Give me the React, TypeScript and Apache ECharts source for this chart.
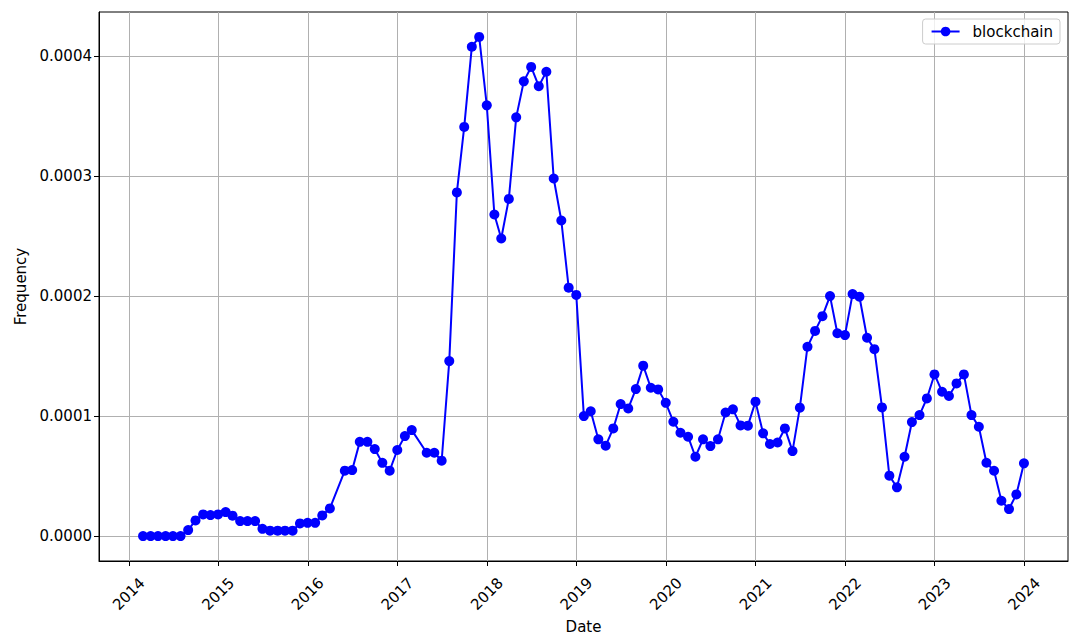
import React, { useEffect, useRef } from "react";
import * as echarts from "echarts";

const months: string[] = [
  "2014-02", "2014-03", "2014-04", "2014-05", "2014-06", "2014-07", "2014-08", "2014-09", "2014-10", "2014-11", "2014-12",
  "2015-01", "2015-02", "2015-03", "2015-04", "2015-05", "2015-06", "2015-07", "2015-08", "2015-09", "2015-10", "2015-11", "2015-12",
  "2016-01", "2016-02", "2016-03", "2016-05", "2016-06", "2016-07", "2016-08", "2016-09", "2016-10", "2016-11", "2016-12",
  "2017-01", "2017-02", "2017-04", "2017-05", "2017-06", "2017-07", "2017-08", "2017-09", "2017-10", "2017-11", "2017-12",
  "2018-01", "2018-02", "2018-03", "2018-04", "2018-05", "2018-06", "2018-07", "2018-08", "2018-09", "2018-10", "2018-11", "2018-12",
  "2019-01", "2019-02", "2019-03", "2019-04", "2019-05", "2019-06", "2019-07", "2019-08", "2019-09", "2019-10", "2019-11", "2019-12",
  "2020-01", "2020-02", "2020-03", "2020-04", "2020-05", "2020-06", "2020-07", "2020-08", "2020-09", "2020-10", "2020-11", "2020-12",
  "2021-01", "2021-02", "2021-03", "2021-04", "2021-05", "2021-06", "2021-07", "2021-08", "2021-09", "2021-10", "2021-11", "2021-12",
  "2022-01", "2022-02", "2022-03", "2022-04", "2022-05", "2022-06", "2022-07", "2022-08", "2022-09", "2022-10", "2022-11", "2022-12",
  "2023-01", "2023-02", "2023-03", "2023-04", "2023-05", "2023-06", "2023-07", "2023-08", "2023-09", "2023-10", "2023-11", "2023-12",
];

const blockchain: number[] = [
  0, 0, 0, 0, 0, 0, 0.000005, 0.000013, 0.000018, 0.0000175, 0.000018,
  0.00002, 0.000017, 0.0000125, 0.0000125, 0.0000125, 0.000006, 0.0000045, 0.0000045, 0.0000045, 0.0000045, 0.0000105, 0.000011,
  0.000011, 0.0000172, 0.000023, 0.0000545, 0.000055, 0.0000785, 0.0000785, 0.0000725, 0.000061, 0.0000545, 0.0000717,
  0.0000833, 0.0000883, 0.0000694, 0.0000694, 0.0000628, 0.0001458, 0.0002864, 0.000341, 0.0004078, 0.000416, 0.000359,
  0.000268, 0.000248, 0.000281, 0.000349, 0.000379, 0.000391, 0.000375, 0.000387, 0.000298, 0.000263, 0.000207, 0.000201,
  0.0001, 0.000104, 0.0000806, 0.0000753, 0.0000897, 0.00011, 0.0001064, 0.0001225, 0.000142, 0.0001236, 0.0001222, 0.000111,
  0.0000953, 0.0000861, 0.0000828, 0.0000661, 0.0000806, 0.000075, 0.0000806, 0.000103, 0.0001056, 0.0000922, 0.000092, 0.000112,
  0.0000856, 0.0000767, 0.000078, 0.0000897, 0.0000708, 0.000107, 0.0001578, 0.000171, 0.0001833, 0.0002, 0.000169, 0.0001675,
  0.0002017, 0.0001995, 0.0001653, 0.0001558, 0.0001072, 0.0000503, 0.0000406, 0.0000661, 0.000095, 0.0001008, 0.0001147, 0.0001347,
  0.0001203, 0.0001167, 0.0001272, 0.0001347, 0.0001008, 0.0000911, 0.0000611, 0.0000544, 0.0000294, 0.0000225, 0.0000347, 0.0000606,
];

const yearTicks: number[] = [2014, 2015, 2016, 2017, 2018, 2019, 2020, 2021, 2022, 2023, 2024];
const yTicks: number[] = [0, 0.0001, 0.0002, 0.0003, 0.0004];

const FONT = "DejaVu Sans";
const FS = 15;

function monthEnd(m: string): number {
  const [y, mo] = m.split("-").map(Number);
  return Date.UTC(y, mo, 0);
}

export default function App() {
  const ref = useRef<HTMLDivElement>(null);

  useEffect(() => {
    if (!ref.current) return;
    const chart = echarts.init(ref.current, undefined, { renderer: "svg" });

    const times = months.map(monthEnd);
    const data = times.map((t, i) => [t, blockchain[i]]);
    const tMin = Math.min(...times);
    const tMax = Math.max(...times);
    const tPad = (tMax - tMin) * 0.05;
    const vMin = Math.min(...blockchain);
    const vMax = Math.max(...blockchain);
    const vPad = (vMax - vMin) * 0.05;
    const xTickValues = yearTicks.map((y) => Date.UTC(y, 0, 1));

    chart.setOption({
      animation: false,
      backgroundColor: "#ffffff",
      textStyle: { fontFamily: FONT },
      grid: {
        left: 99,
        right: 12,
        top: 12,
        bottom: 82,
        show: true,
        borderColor: "#000000",
        borderWidth: 1,
        backgroundColor: "transparent",
      },
      legend: {
        right: 20,
        top: 19,
        orient: "vertical",
        backgroundColor: "rgba(255,255,255,0.8)",
        borderColor: "#cccccc",
        borderWidth: 1,
        borderRadius: 3,
        padding: [5, 7, 5, 8],
        itemWidth: 28,
        itemHeight: 12,
        textStyle: { fontFamily: FONT, fontSize: FS, color: "#000000", padding: [0, 0, 0, 8] },
        data: ["blockchain"],
      },
      xAxis: {
        type: "value",
        min: tMin - tPad,
        max: tMax + tPad,
        name: "Date",
        nameLocation: "middle",
        nameGap: 53,
        nameTextStyle: { fontFamily: FONT, fontSize: FS, color: "#000000", verticalAlign: "top" },
        axisLine: { show: true, onZero: false, lineStyle: { color: "#000000", width: 1 } },
        axisTick: {
          show: true,
          length: 5,
          inside: false,
          lineStyle: { color: "#000000", width: 1 },
          customValues: xTickValues,
        },
        axisLabel: {
          customValues: xTickValues,
          rotate: 45,
          align: "center",
          verticalAlign: "middle",
          margin: 33,
          fontFamily: FONT,
          fontSize: FS,
          color: "#000000",
          formatter: (v: number) => String(new Date(v).getUTCFullYear()),
        },
        splitLine: { show: true, lineStyle: { color: "#b0b0b0", width: 1 } },
      },
      yAxis: {
        type: "value",
        min: vMin - vPad,
        max: vMax + vPad,
        name: "Frequency",
        nameLocation: "middle",
        nameGap: 69,
        nameTextStyle: { fontFamily: FONT, fontSize: FS, color: "#000000" },
        axisLine: { show: true, onZero: false, lineStyle: { color: "#000000", width: 1 } },
        axisTick: {
          show: true,
          length: 5,
          inside: false,
          lineStyle: { color: "#000000", width: 1 },
          customValues: yTicks,
        },
        axisLabel: {
          customValues: yTicks,
          margin: 7,
          fontFamily: FONT,
          fontSize: FS,
          color: "#000000",
          formatter: (v: number) => v.toFixed(4),
        },
        splitLine: { show: true, lineStyle: { color: "#b0b0b0", width: 1 } },
      },
      series: [
        {
          name: "blockchain",
          type: "line",
          data,
          symbol: "circle",
          symbolSize: 10,
          showSymbol: true,
          lineStyle: { color: "#0000ff", width: 2 },
          itemStyle: { color: "#0000ff" },
          emphasis: { disabled: true },
        },
      ],
    });

    return () => chart.dispose();
  }, []);

  return (
    <div
      ref={ref}
      style={{ position: "fixed", left: 0, top: 0, width: 1080, height: 643, background: "#ffffff" }}
    />
  );
}
